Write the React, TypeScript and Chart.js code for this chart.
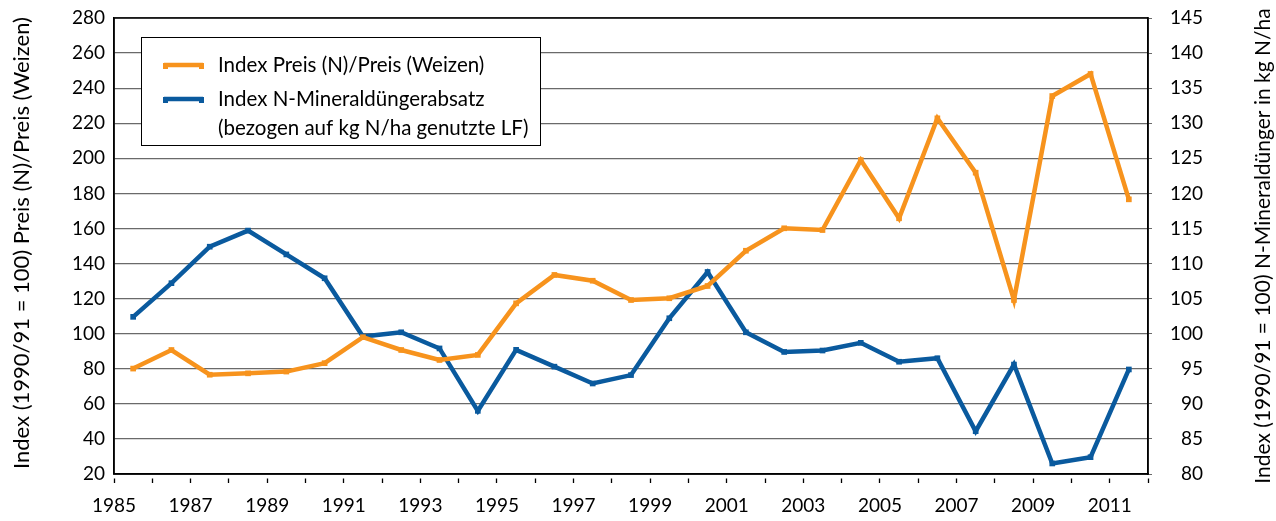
import React, { useEffect, useRef } from "react";
import { Chart, registerables } from "chart.js";

Chart.register(...registerables);

// x positions: each value belongs to the season starting in that year (1985/86 ... 2011/12)
const seasons = [
  1985.5, 1986.5, 1987.5, 1988.5, 1989.5, 1990.5, 1991.5, 1992.5, 1993.5,
  1994.5, 1995.5, 1996.5, 1997.5, 1998.5, 1999.5, 2000.5, 2001.5, 2002.5,
  2003.5, 2004.5, 2005.5, 2006.5, 2007.5, 2008.5, 2009.5, 2010.5, 2011.5,
];

// Index Preis (N)/Preis (Weizen) — left axis
const priceIndex = [
  80.1, 90.7, 76.6, 77.4, 78.4, 83.2, 98.0, 90.7, 85.0, 87.9, 117.3, 133.5,
  130.2, 119.2, 120.2, 127.2, 147.3, 160.1, 159.1, 199.0, 165.8, 222.8, 191.8,
  119.2, 235.5, 248.1, 176.6,
];

// Index N-Mineraldüngerabsatz — right axis
const fertIndex = [
  102.4, 107.2, 112.4, 114.7, 111.3, 107.9, 99.6, 100.2, 97.9, 89.0, 97.7,
  95.3, 92.9, 94.1, 102.2, 108.8, 100.2, 97.4, 97.6, 98.7, 96.0, 96.5, 86.1,
  95.6, 81.5, 82.4, 94.9,
];

const seriesNames = [
  "Index Preis (N)/Preis (Weizen)",
  "Index N-Mineraldüngerabsatz",
];
const seriesNameExtra = "(bezogen auf kg N/ha genutzte LF)";
const leftTitle = "Index (1990/91 = 100) Preis (N)/Preis (Weizen)";
const rightTitle = "Index (1990/91 = 100) N-Mineraldünger in kg N/ha";

const ORANGE = "#F7931D";
const BLUE = "#0A5A9E";
const FONT = "Lato";
const TICK_FS = 19;
const LEGEND_FS = 20.5;
const LEFT_TITLE_FS = 22;
const RIGHT_TITLE_FS = 21;

const decor = {
  id: "decor",
  beforeDatasetsDraw(chart: any) {
    const { ctx, chartArea: a } = chart;
    ctx.save();
    ctx.strokeStyle = "#000";
    ctx.lineWidth = 1.5;
    ctx.strokeRect(a.left, a.top, a.right - a.left, a.bottom - a.top);
    ctx.restore();
  },
  afterDraw(chart: any) {
    const { ctx, chartArea: a } = chart;
    const midY = (a.top + a.bottom) / 2;
    ctx.save();
    ctx.fillStyle = "#000";
    ctx.textAlign = "center";
    ctx.textBaseline = "middle";
    // left title
    ctx.save();
    ctx.font = `${LEFT_TITLE_FS}px ${FONT}`;
    ctx.translate(22, midY - 3);
    ctx.rotate(-Math.PI / 2);
    ctx.fillText(leftTitle, 0, 0);
    ctx.restore();
    // right title
    ctx.save();
    ctx.font = `${RIGHT_TITLE_FS}px ${FONT}`;
    ctx.translate(1263, midY);
    ctx.rotate(-Math.PI / 2);
    ctx.fillText(rightTitle, 0, 0);
    ctx.restore();

    // legend
    const bx = a.left + 27;
    const by = a.top + 19;
    const bw = 399;
    const bh = 108;
    ctx.fillStyle = "#fff";
    ctx.fillRect(bx, by, bw, bh);
    ctx.strokeStyle = "#000";
    ctx.lineWidth = 1;
    ctx.strokeRect(bx + 0.5, by + 0.5, bw, bh);

    const drawKey = (y: number, color: string) => {
      ctx.strokeStyle = color;
      ctx.lineWidth = 4.5;
      ctx.beginPath();
      ctx.moveTo(bx + 23, y);
      ctx.lineTo(bx + 62, y);
      ctx.stroke();
      ctx.fillStyle = color;
      ctx.fillRect(bx + 22, y - 2, 5, 6);
      ctx.fillRect(bx + 58, y - 2, 5, 6);
    };
    drawKey(by + 28, ORANGE);
    drawKey(by + 62, BLUE);
    ctx.fillStyle = "#000";
    ctx.textAlign = "left";
    ctx.font = `${LEGEND_FS}px ${FONT}`;
    ctx.fillText(seriesNames[0], bx + 77, by + 28);
    ctx.fillText(seriesNames[1], bx + 77, by + 62);
    ctx.fillText(seriesNameExtra, bx + 77, by + 91);
    ctx.restore();
  },
};

const fitVertical = (w: number) => (s: any) => {
  s.width = w;
  s.paddingTop = 0;
  s.paddingBottom = 0;
};

export default function App() {
  const ref = useRef<HTMLCanvasElement | null>(null);
  useEffect(() => {
    if (!ref.current) return;
    const chart = new Chart(ref.current, {
      type: "line",
      data: {
        datasets: [
          {
            label: seriesNames[0],
            data: seasons.map((x, i) => ({ x, y: priceIndex[i] })),
            borderColor: ORANGE,
            backgroundColor: ORANGE,
            borderWidth: 4.5,
            pointStyle: "rect",
            pointRadius: 4,
            pointBorderWidth: 0,
            tension: 0,
            yAxisID: "y",
          },
          {
            label: seriesNames[1],
            data: seasons.map((x, i) => ({ x, y: fertIndex[i] })),
            borderColor: BLUE,
            backgroundColor: BLUE,
            borderWidth: 4.5,
            pointStyle: "rect",
            pointRadius: 4,
            pointBorderWidth: 0,
            tension: 0,
            yAxisID: "y1",
          },
        ],
      },
      options: {
        animation: false,
        responsive: true,
        maintainAspectRatio: false,
        layout: { padding: { top: 18, left: 0, right: 73, bottom: 0 } },
        plugins: { legend: { display: false }, tooltip: { enabled: false } },
        scales: {
          x: {
            type: "linear",
            min: 1985,
            max: 2012,
            afterFit: (s: any) => {
              s.height = 47;
              s.paddingLeft = 0;
              s.paddingRight = 0;
            },
            afterBuildTicks: (s: any) => {
              const t = [];
              for (let v = 1985; v <= 2012; v++) t.push({ value: v });
              s.ticks = t;
            },
            ticks: {
              autoSkip: false,
              maxRotation: 0,
              padding: 11,
              color: "#000",
              font: { family: FONT, size: TICK_FS },
              callback: (v: any) =>
                v < 2012 && (v - 1985) % 2 === 0 ? String(v) : "",
            },
            grid: {
              drawOnChartArea: false,
              drawTicks: true,
              tickLength: 9,
              tickColor: "#000",
              tickWidth: 1.3,
              tickBorderDash: [0, 4, 5, 30],
            },
            border: { display: true, color: "#000", width: 1.5 },
          },
          y: {
            position: "left",
            min: 20,
            max: 280,
            afterFit: fitVertical(114),
            ticks: {
              stepSize: 20,
              padding: 9,
              color: "#000",
              font: { family: FONT, size: TICK_FS },
            },
            grid: {
              color: "#6a6a6a",
              lineWidth: 1.2,
              drawTicks: false,
            },
            border: { display: true, color: "#000", width: 1.5 },
          },
          y1: {
            position: "right",
            min: 80,
            max: 145,
            afterFit: fitVertical(55),
            ticks: {
              stepSize: 5,
              padding: 18,
              crossAlign: "far",
              color: "#000",
              font: { family: FONT, size: TICK_FS },
            },
            grid: {
              drawOnChartArea: false,
              drawTicks: true,
              tickLength: 4,
              tickColor: "#6a6a6a",
            },
            border: { display: true, color: "#000", width: 1.5 },
          },
        },
      },
      plugins: [decor],
    } as any);
    return () => chart.destroy();
  }, []);
  return (
    <div
      style={{
        position: "absolute",
        left: 0,
        top: 0,
        width: 1276,
        height: 521,
        background: "#fff",
      }}
    >
      <canvas ref={ref} />
    </div>
  );
}
